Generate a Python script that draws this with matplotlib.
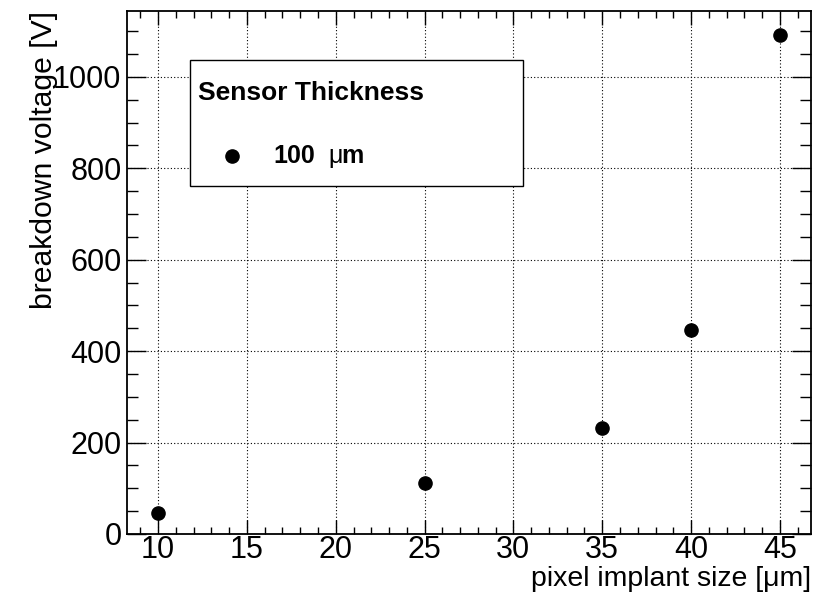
import matplotlib
matplotlib.use("Agg")
import matplotlib.pyplot as plt
from matplotlib import font_manager
from matplotlib.ticker import MultipleLocator

# pixel implant size [um] vs breakdown voltage [V], 100 um sensors
implant_size = [10, 25, 35, 40, 45]
breakdown_v = [47, 111, 232, 446, 1092]

plt.rcParams['font.family'] = ['Liberation Sans', 'DejaVu Sans']

# make sure the bold face is the regular-width Liberation Sans Bold
bold_path = None
for f in font_manager.fontManager.ttflist:
    if f.name == 'Liberation Sans' and f.weight in (700, 'bold') and f.style == 'normal':
        bold_path = f.fname


def bold(size):
    if bold_path:
        return font_manager.FontProperties(fname=bold_path, size=size)
    return font_manager.FontProperties(family='Liberation Sans', weight='bold', size=size)


reg_font = font_manager.FontProperties(family='Liberation Sans', size=18)

fig = plt.figure(figsize=(8.23, 6.01), dpi=100)
ax = fig.add_axes([0.1543, 0.1115, 0.8311, 0.8702])

ax.plot(implant_size, breakdown_v, linestyle='none', marker='o', color='black',
        markersize=9.5, zorder=3, clip_on=False)

ax.set_xlim(8.25, 46.75)
ax.set_ylim(0, 1144)

ax.xaxis.set_major_locator(MultipleLocator(5))
ax.xaxis.set_minor_locator(MultipleLocator(1))
ax.yaxis.set_major_locator(MultipleLocator(200))
ax.yaxis.set_minor_locator(MultipleLocator(50))

ax.grid(True, which='major', linestyle=(0, (1, 2)), color='black', linewidth=0.8)
ax.tick_params(which='both', direction='in', top=True, right=True, labelsize=22, width=1.0)
ax.tick_params(axis='x', which='major', length=10, pad=1.0)
ax.tick_params(axis='x', which='minor', length=5)
ax.tick_params(axis='y', which='major', length=14, pad=4)
ax.tick_params(axis='y', which='minor', length=8)
for sp in ax.spines.values():
    sp.set_linewidth(1.3)

ax.set_xlabel('pixel implant size [\u03bcm]', fontsize=20.5, loc='right')
ax.set_ylabel('breakdown voltage [V]', fontsize=21.7, loc='top')
ax.xaxis.set_label_coords(1.0, -0.062)
ax.yaxis.set_label_coords(-0.101, 1.0)

# legend box drawn like a ROOT TLegend
box = plt.Rectangle((190 / 823, 1 - 186 / 601), (523 - 190) / 823, (186 - 60) / 601,
                    transform=fig.transFigure, facecolor='white', edgecolor='black',
                    linewidth=1.0, zorder=5)
fig.patches.append(box)
fig.text(198 / 823, 1 - 93 / 601, 'Sensor Thickness', fontproperties=bold(19),
         va='center', ha='left', zorder=6)
fig.lines.append(plt.Line2D([232 / 823], [1 - 156 / 601], transform=fig.transFigure,
                            marker='o', color='black', markersize=9.5, zorder=6))
fig.text(273 / 823, 1 - 156 / 601, '100', fontproperties=bold(18),
         va='center', ha='left', zorder=6)
fig.text(328 / 823, 1 - 156 / 601, '\u03bc', fontproperties=reg_font,
         va='center', ha='left', zorder=6)
fig.text(341 / 823, 1 - 156 / 601, 'm', fontproperties=bold(18),
         va='center', ha='left', zorder=6)

fig.savefig('out.png', dpi=100)
